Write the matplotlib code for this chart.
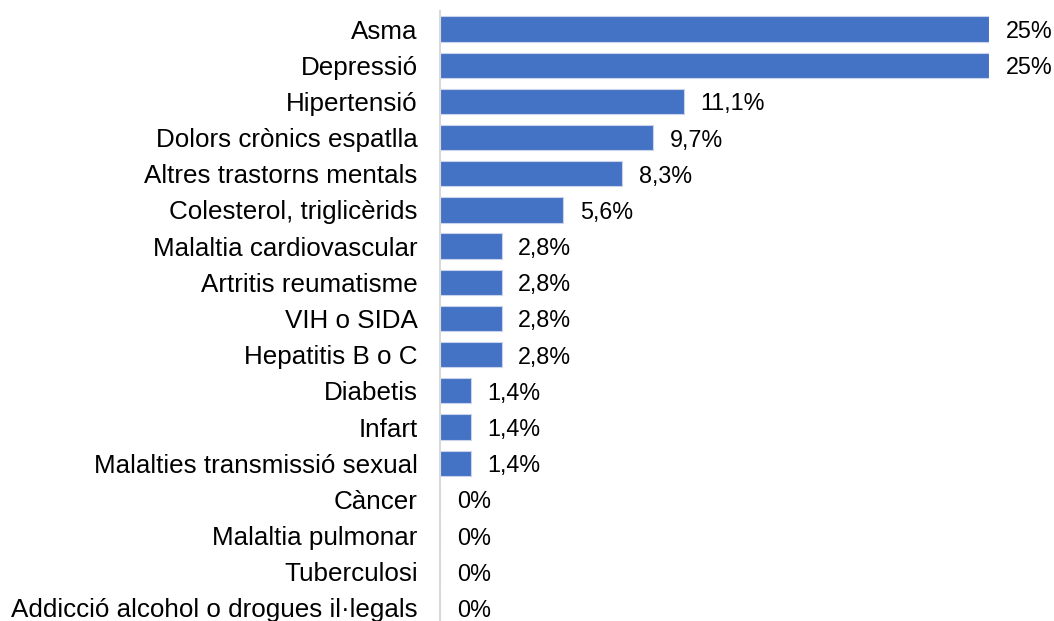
import matplotlib.pyplot as plt

plt.rcParams['font.family'] = ['Liberation Sans', 'DejaVu Sans']

categories = [
    'Asma', 'Depressió', 'Hipertensió', 'Dolors crònics espatlla',
    'Altres trastorns mentals', 'Colesterol, triglicèrids',
    'Malaltia cardiovascular', 'Artritis reumatisme', 'VIH o SIDA',
    'Hepatitis B o C', 'Diabetis', 'Infart', 'Malalties transmissió sexual',
    'Càncer', 'Malaltia pulmonar', 'Tuberculosi',
    'Addicció alcohol o drogues il·legals',
]
values = [25, 25, 11.1, 9.7, 8.3, 5.6, 2.8, 2.8, 2.8, 2.8, 1.4, 1.4, 1.4, 0, 0, 0, 0]
value_labels = ['25%', '25%', '11,1%', '9,7%', '8,3%', '5,6%', '2,8%', '2,8%', '2,8%',
                '2,8%', '1,4%', '1,4%', '1,4%', '0%', '0%', '0%', '0%']

fig = plt.figure(figsize=(10.54, 6.21), dpi=100)
ax = fig.add_axes([0.4175, -0.008, 0.5209, 0.9903])

pos = list(range(len(categories)))
ax.barh(pos, values, height=0.7, color='#4472C4', edgecolor='#C9D4EA', linewidth=0.8)

for p, v, lab in zip(pos, values, value_labels):
    ax.annotate(lab, xy=(v, p), xytext=(12, 0), textcoords='offset points',
                ha='left', va='center_baseline', fontsize=16.8, color='#000000',
                annotation_clip=False)

ax.set_xlim(0, 25)
ax.set_ylim(len(categories) - 0.5, -0.5)
ax.set_yticks(pos)
ax.set_yticklabels(categories, fontsize=18.7)
ax.tick_params(axis='y', length=0, pad=16)
ax.set_xticks([])

for s in ['top', 'right', 'bottom']:
    ax.spines[s].set_visible(False)
ax.spines['left'].set_color('#D9D9D9')
ax.spines['left'].set_linewidth(1.5)

fig.savefig('out.png', dpi=100)
